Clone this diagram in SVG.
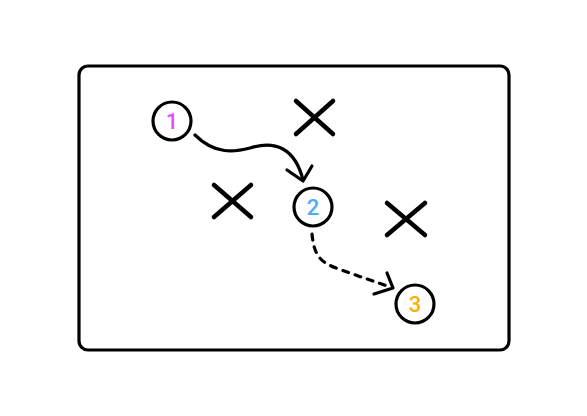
<svg xmlns="http://www.w3.org/2000/svg" width="587" height="416" viewBox="0 0 587 416">
<style>
.s{fill:none;stroke:#000;stroke-width:3.2;stroke-linecap:round;stroke-linejoin:round}
.n{fill:#fff;stroke:#000;stroke-width:3.2}
.t{font-family:Roboto,"Liberation Sans",sans-serif;font-size:22px;font-weight:500;text-anchor:middle;dominant-baseline:central}
.x{fill:none;stroke:#000;stroke-width:4.5;stroke-linecap:round}
</style>
<rect width="587" height="416" fill="#fff"/>
<rect x="79" y="66" width="430" height="284" rx="9" class="s"/>
<g id="marks">
<path class="x" d="M296 101 L333 134 M333 101 L296 134"/>
<path class="x" d="M214 185 L251 217 M251 185 L214 217"/>
<path class="x" d="M387 203 L425 235 M425 203 L387 235"/>
</g>
<g id="connectors">
<path class="s" d="M195 135 C215 155 235 152 250 148 C275 140 295 148 303 180"/>
<path class="s" d="M287 170 L303 181 L312 166"/>
<path class="s" stroke-dasharray="6 7" d="M312 234 C314 255 320 262 336 268 C355 275 370 280 390 287"/>
<path class="s" d="M387 273 L393 288 L374 294"/>
</g>
<g id="node1"><circle class="n" cx="172" cy="121" r="19"/><text class="t" x="172" y="121" fill="#e64dff">1</text></g>
<g id="node2"><circle class="n" cx="313" cy="207" r="19"/><text class="t" x="313" y="207" fill="#4dabf7">2</text></g>
<g id="node3"><circle class="n" cx="415" cy="304" r="19"/><text class="t" x="415" y="304" fill="#fab005">3</text></g>
</svg>
